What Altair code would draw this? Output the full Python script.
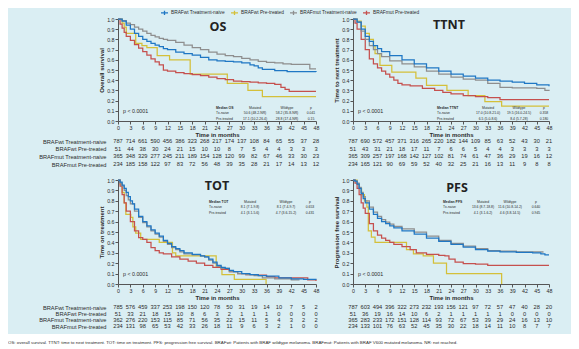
import altair as alt
import pandas as pd

BG = "#DAEEF3"
FONT = "Liberation Sans"
TFONT = "Open Sans"
INK = "#2b2b2b"

SERIES = ["BRAFwt Treatment-naive", "BRAFwt Pre-treated",
          "BRAFmut Treatment-naive", "BRAFmut Pre-treated"]
COLORS = ["#1f77c4", "#d4c03a", "#8e8e8e", "#c5504e"]
DRAW_ORDER = [1, 3, 2, 0]
MONTHS = list(range(0, 49, 3))
Y_TICKS = [0.0, 0.1, 0.2, 0.3, 0.4, 0.5, 0.6, 0.7, 0.8, 0.9, 1.0]

# ---------------- OS ----------------
os_wt_naive_t = [0, 1, 2, 3, 4, 5, 6, 7, 8, 9, 10, 11, 12, 14, 16, 18, 20, 22, 24, 26, 28, 30, 32, 33, 34, 35, 38, 41, 48]
os_wt_naive_s = [1, 0.98, 0.94, 0.90, 0.86, 0.83, 0.80, 0.78, 0.76, 0.745, 0.73, 0.71, 0.70, 0.675, 0.66, 0.645, 0.625, 0.60, 0.59, 0.585, 0.58, 0.57, 0.55, 0.54, 0.52, 0.505, 0.495, 0.485, 0.48]
os_wt_pre_t = [0, 1, 1.5, 2, 4.3, 5.8, 7, 9.5, 12.5, 17.5, 26.5, 31.5, 35, 48]
os_wt_pre_s = [1, 0.96, 0.92, 0.86, 0.76, 0.74, 0.72, 0.64, 0.60, 0.46, 0.37, 0.30, 0.24, 0.24]
os_mut_naive_t = [0, 1, 2, 3, 4, 5, 6, 7, 8, 9, 10, 11, 12, 14, 16, 18, 20, 22, 24, 26, 28, 30, 32, 34, 36, 38, 40, 42, 46.5, 48]
os_mut_naive_s = [1, 0.985, 0.96, 0.945, 0.92, 0.90, 0.88, 0.86, 0.84, 0.825, 0.81, 0.80, 0.79, 0.77, 0.745, 0.72, 0.70, 0.675, 0.655, 0.64, 0.63, 0.615, 0.60, 0.585, 0.575, 0.57, 0.56, 0.555, 0.51, 0.51]
os_mut_pre_t = [0, 0.5, 1, 1.5, 2, 3, 4, 5, 6, 7, 8, 9, 10, 11, 12, 14, 16, 18, 20, 22, 24, 26, 28, 30, 32, 34, 36, 38, 39.5, 40.5, 41.5, 48]
os_mut_pre_s = [1, 0.95, 0.91, 0.87, 0.83, 0.79, 0.75, 0.715, 0.68, 0.645, 0.61, 0.58, 0.55, 0.50, 0.49, 0.475, 0.465, 0.455, 0.445, 0.43, 0.415, 0.405, 0.39, 0.385, 0.38, 0.375, 0.37, 0.36, 0.33, 0.31, 0.29, 0.29]

# ---------------- TTNT ----------------
ttnt_wt_naive_t = [0, 1, 2, 3, 4, 5, 6, 7, 9, 12, 15, 18, 21, 24, 27, 30, 33, 36, 39, 42, 45, 48]
ttnt_wt_naive_s = [1, 0.97, 0.90, 0.83, 0.78, 0.74, 0.71, 0.68, 0.64, 0.60, 0.56, 0.52, 0.49, 0.46, 0.44, 0.42, 0.40, 0.39, 0.38, 0.37, 0.355, 0.34]
ttnt_wt_pre_t = [0, 1, 2, 3, 4, 5, 5.4, 6.6, 9.5, 15.4, 18, 23, 28.2, 32.3, 36.4, 48]
ttnt_wt_pre_s = [1, 0.98, 0.93, 0.86, 0.80, 0.74, 0.66, 0.545, 0.48, 0.42, 0.35, 0.30, 0.25, 0.19, 0.145, 0.145]
ttnt_mut_naive_t = [0, 1, 2, 3, 4, 5, 6, 7, 9, 12, 15, 18, 21, 24, 27, 30, 33, 36, 39, 45, 47, 48]
ttnt_mut_naive_s = [1, 0.97, 0.88, 0.80, 0.74, 0.70, 0.66, 0.63, 0.59, 0.56, 0.53, 0.49, 0.46, 0.43, 0.41, 0.40, 0.37, 0.33, 0.325, 0.32, 0.30, 0.295]
ttnt_mut_pre_t = [0, 0.5, 1, 2, 3, 4, 5, 6, 7, 8, 9, 10, 11, 12, 14, 17, 20, 22, 24, 27, 30, 33, 36, 48]
ttnt_mut_pre_s = [1, 0.96, 0.90, 0.80, 0.70, 0.61, 0.56, 0.52, 0.49, 0.46, 0.43, 0.40, 0.37, 0.355, 0.345, 0.32, 0.30, 0.28, 0.265, 0.25, 0.24, 0.23, 0.21, 0.21]

# ---------------- TOT ----------------
tot_wt_naive_t = [0, 0.5, 1, 1.5, 2, 2.5, 3, 3.5, 4, 5, 6, 7, 8, 9, 10, 11, 12, 13, 14, 15, 16, 18, 20, 21, 22, 23, 24, 25, 26, 27, 28, 30, 32, 34, 36, 39, 42, 45, 48]
tot_wt_naive_s = [1, 0.98, 0.95, 0.92, 0.88, 0.84, 0.80, 0.77, 0.72, 0.65, 0.60, 0.56, 0.52, 0.49, 0.46, 0.42, 0.39, 0.36, 0.34, 0.32, 0.30, 0.285, 0.27, 0.26, 0.24, 0.21, 0.18, 0.16, 0.15, 0.13, 0.12, 0.10, 0.09, 0.08, 0.075, 0.06, 0.05, 0.045, 0.04]
tot_wt_pre_t = [0, 0.5, 1, 1.5, 1.9, 3.1, 3.6, 4.3, 5.5, 10, 13.2, 14, 23.8, 25.2, 28.2, 35.9]
tot_wt_pre_s = [1, 0.96, 0.88, 0.78, 0.67, 0.64, 0.55, 0.49, 0.43, 0.40, 0.30, 0.27, 0.16, 0.09, 0.045, 0.0]
tot_mut_naive_t = [0, 0.5, 1, 1.5, 2, 2.5, 3, 4, 5, 6, 7, 8, 9, 10, 11, 12, 13, 14, 15, 16, 18, 20, 21, 22, 23, 24, 25, 27, 29, 31, 33, 35, 38, 42, 44]
tot_mut_naive_s = [1, 0.97, 0.94, 0.90, 0.85, 0.81, 0.77, 0.70, 0.64, 0.59, 0.55, 0.51, 0.48, 0.45, 0.41, 0.38, 0.35, 0.33, 0.31, 0.29, 0.28, 0.27, 0.26, 0.23, 0.20, 0.17, 0.15, 0.12, 0.10, 0.09, 0.08, 0.06, 0.05, 0.04, 0.04]
tot_mut_pre_t = [0, 0.5, 1, 1.5, 2, 3, 4, 5, 6, 7, 8, 9, 10, 11, 13, 15, 17, 19, 21, 23, 25, 27, 29, 31, 34, 36, 38, 42, 46, 48]
tot_mut_pre_s = [1, 0.94, 0.86, 0.78, 0.70, 0.60, 0.51, 0.445, 0.43, 0.40, 0.35, 0.32, 0.30, 0.29, 0.26, 0.24, 0.22, 0.20, 0.18, 0.16, 0.14, 0.12, 0.10, 0.09, 0.085, 0.07, 0.06, 0.06, 0.04, 0.03]

# ---------------- PFS ----------------
pfs_wt_naive_t = [0, 0.5, 1, 1.5, 2, 2.5, 3, 4, 5, 6, 7, 8, 9, 10, 12, 15, 18, 21, 24, 27, 30, 33, 36, 40, 44, 46, 47, 48]
pfs_wt_naive_s = [1, 0.99, 0.96, 0.92, 0.87, 0.82, 0.78, 0.72, 0.67, 0.63, 0.60, 0.58, 0.56, 0.54, 0.51, 0.48, 0.44, 0.41, 0.38, 0.355, 0.33, 0.315, 0.31, 0.305, 0.30, 0.29, 0.28, 0.28]
pfs_wt_pre_t = [0, 1, 1.5, 2.1, 2.8, 3.4, 3.75, 4.5, 5.4, 13.1, 14.8, 17.2, 19.7, 22.9, 36.4]
pfs_wt_pre_s = [1, 0.96, 0.92, 0.86, 0.80, 0.74, 0.51, 0.45, 0.40, 0.33, 0.29, 0.27, 0.20, 0.10, 0.0]
pfs_mut_naive_t = [0, 0.5, 1, 1.5, 2, 2.5, 3, 4, 5, 6, 7, 8, 9, 10, 12, 15, 18, 21, 24, 27, 30, 33, 36, 40, 44, 46.5]
pfs_mut_naive_s = [1, 0.99, 0.97, 0.93, 0.88, 0.84, 0.80, 0.74, 0.69, 0.65, 0.62, 0.595, 0.575, 0.555, 0.53, 0.50, 0.46, 0.42, 0.39, 0.365, 0.34, 0.32, 0.315, 0.31, 0.31, 0.30]
pfs_mut_pre_t = [0, 0.5, 1, 1.5, 2, 2.5, 3, 4, 5, 6, 7, 8, 9, 10, 12, 14, 15.5, 18, 21, 22.5, 23.5, 25, 27, 30, 33, 48]
pfs_mut_pre_s = [1, 0.97, 0.92, 0.86, 0.78, 0.73, 0.68, 0.58, 0.51, 0.47, 0.44, 0.42, 0.40, 0.38, 0.36, 0.33, 0.30, 0.285, 0.275, 0.27, 0.24, 0.21, 0.195, 0.19, 0.18, 0.18]

# ---------------- numbers at risk ----------------
os_risk_wt_naive = [787, 714, 661, 590, 456, 386, 323, 268, 217, 174, 137, 108, 84, 65, 55, 37, 28]
os_risk_wt_pre = [51, 44, 38, 30, 24, 21, 15, 10, 10, 8, 7, 5, 4, 4, 3, 3, 3]
os_risk_mut_naive = [365, 348, 329, 277, 245, 211, 189, 154, 128, 120, 99, 82, 67, 46, 33, 30, 23]
os_risk_mut_pre = [234, 185, 158, 122, 97, 83, 72, 56, 48, 39, 35, 28, 21, 17, 14, 13, 12]

ttnt_risk_wt_naive = [787, 690, 572, 457, 371, 316, 265, 220, 182, 144, 109, 85, 63, 52, 43, 30, 21]
ttnt_risk_wt_pre = [51, 43, 31, 21, 18, 17, 11, 7, 6, 6, 5, 4, 4, 3, 3, 3, 3]
ttnt_risk_mut_naive = [365, 309, 257, 197, 168, 142, 127, 102, 81, 74, 61, 47, 36, 29, 19, 16, 12]
ttnt_risk_mut_pre = [234, 165, 121, 90, 69, 59, 52, 40, 32, 25, 21, 16, 13, 11, 9, 8, 8]

tot_risk_wt_naive = [785, 576, 459, 337, 253, 198, 150, 120, 78, 50, 31, 19, 14, 10, 7, 5, 2]
tot_risk_wt_pre = [51, 33, 21, 18, 15, 10, 8, 6, 3, 2, 1, 1, 1, 0, 0, 0, 0]
tot_risk_mut_naive = [362, 276, 220, 153, 115, 85, 71, 56, 35, 22, 15, 11, 5, 4, 3, 2, 2]
tot_risk_mut_pre = [234, 131, 98, 65, 53, 42, 33, 26, 18, 11, 9, 6, 3, 2, 1, 0, 0]

pfs_risk_wt_naive = [787, 603, 494, 396, 322, 273, 232, 193, 156, 121, 97, 72, 57, 47, 40, 28, 20]
pfs_risk_wt_pre = [51, 36, 19, 16, 14, 10, 6, 2, 1, 1, 1, 1, 1, 0, 0, 0, 0]
pfs_risk_mut_naive = [365, 283, 233, 172, 151, 128, 114, 93, 72, 67, 53, 39, 29, 24, 16, 13, 10]
pfs_risk_mut_pre = [234, 133, 101, 76, 63, 52, 45, 35, 30, 22, 18, 14, 11, 10, 8, 7, 7]

# ---------------- texts ----------------
PANEL_TITLES = ["OS", "TTNT", "TOT", "PFS"]
Y_TITLES = ["Overall survival", "Time to next treatment", "Time on treatment", "Progression free survival"]
X_TITLE = "Time in months"
P_TEXT = "p < 0.0001"
os_inset = [["Median OS", "Mutated", "Wildtype", "p"],
            ["Tx-naive", "50.6 (48.2-NR)", "58.2 (35.8-NR)", "0.041"],
            ["Pre-treated", "17.1 (10.2-26.4)", "28.8 (17.4-NR)", "0.15"]]
ttnt_inset = [["Median TTNT", "Mutated", "Wildtype", "p"],
              ["Tx-naive", "17.0 (10.8-21.0)", "19.5 (16.0-24.5)", "0.358"],
              ["Pre-treated", "6.5 (5.0-8.6)", "8.4 (5.7-28)", "0.180"]]
tot_inset = [["Median TOT", "Mutated", "Wildtype", "p"],
             ["Tx-naive", "8.1 (7.1-9.8)", "8.1 (7.4-9.7)", "0.653"],
             ["Pre-treated", "4.1 (3.1-5.6)", "4.7 (3.6-15.2)", "0.431"]]
pfs_inset = [["Median PFS", "Mutated", "Wildtype", "p"],
             ["Tx-naive", "13.6 (8.7-18.8)", "11.6 (10.8-14.2)", "0.640"],
             ["Pre-treated", "4.1 (3.1-6.2)", "4.6 (3.8-14.5)", "0.945"]]
FOOTNOTE = ("OS: overall survival. TTNT: time to next treatment. TOT: time on treatment. "
            "PFS: progression free survival. BRAFwt: Patients with BRAF wildtype melanoma. "
            "BRAFmut: Patients with BRAF V600 mutated melanoma. NR: not reached.")

# ---------------- layout (pixels) ----------------
W_L, W_R = 198, 196
H_T, H_B = 102, 104

COLOR = alt.Color(
    "series:N",
    scale=alt.Scale(domain=SERIES, range=COLORS),
    legend=alt.Legend(title=None, orient="none", legendX=42, legendY=-11, direction="horizontal",
                      labelFont=FONT, labelFontSize=4.8, labelColor=INK,
                      symbolType="M-1,0L1,0M0,-0.6L0,0.6", symbolSize=49, symbolStrokeWidth=1.3,
                      columnPadding=3, labelOffset=2, padding=0, labelLimit=200),
)


def axes(ytitle):
    x = alt.X("t:Q", scale=alt.Scale(domain=[0, 48], nice=False, zero=False),
              axis=alt.Axis(values=MONTHS, title=X_TITLE, grid=False, tickSize=3, labelPadding=1,
                            titlePadding=1, labelFont=FONT, labelFontSize=5.3, labelColor=INK,
                            titleFont=FONT, titleFontSize=6, titleFontWeight="bold", titleColor=INK,
                            domainColor="#555", tickColor="#555", labelFlush=False,
                            labelOverlap=False))
    y = alt.Y("s:Q", scale=alt.Scale(domain=[0, 1], nice=False),
              axis=alt.Axis(values=Y_TICKS, format=".1f", title=ytitle, grid=False, tickSize=3,
                            labelPadding=1, titlePadding=2, labelFont=FONT, labelFontSize=5.3,
                            labelColor=INK, titleFont=FONT, titleFontSize=6,
                            titleFontWeight="bold", titleColor=INK, domainColor="#555",
                            tickColor="#555", labelFlush=False, labelOverlap=False))
    return x, y


def km_panel(curves, W, H, ytitle, title, title_xy, inset, cols, rows):
    X, Y = axes(ytitle)
    layers = []
    for i in DRAW_ORDER:
        t, s = curves[i]
        df = pd.DataFrame({"t": t, "s": s, "series": SERIES[i]})
        layers.append(alt.Chart(df).mark_line(interpolate="step-after", strokeWidth=1.25)
                      .encode(x=X, y=Y, color=COLOR))
    tdf = pd.DataFrame({"t": [title_xy[0] / W * 48], "s": [1 - title_xy[1] / H], "label": [title]})
    layers.append(alt.Chart(tdf).mark_text(font=TFONT, fontSize=12.5, fontWeight="bold",
                                           color="#222", baseline="middle")
                  .encode(x=X, y=Y, text="label:N"))
    pdf = pd.DataFrame({"t": [5 / W * 48], "s": [10 / H], "label": [P_TEXT]})
    layers.append(alt.Chart(pdf).mark_text(font=FONT, fontSize=5.3, color=INK, align="left",
                                           baseline="middle")
                  .encode(x=X, y=Y, text="label:N"))
    recs = []
    for r, (row, py) in enumerate(zip(inset, rows)):
        for c, (cell, px) in enumerate(zip(row, cols)):
            recs.append({"t": px / W * 48, "s": 1 - py / H, "label": cell,
                         "is_first": c == 0, "bold": (r == 0 and c == 0)})
    idf = pd.DataFrame(recs)
    for first, align in [(True, "left"), (False, "center")]:
        for bold in [True, False]:
            sub = idf[(idf["is_first"] == first) & (idf["bold"] == bold)]
            if len(sub) == 0:
                continue
            layers.append(alt.Chart(sub).mark_text(font=FONT, fontSize=3.4, color=INK, align=align,
                                                   baseline="middle",
                                                   fontWeight="bold" if bold else "normal")
                          .encode(x=X, y=Y, text="label:N"))
    return alt.layer(*layers).properties(width=W, height=H)


def risk_panel(counts, W, H, r0, step, show_labels):
    recs = []
    for i in range(4):
        for m, n in zip(MONTHS, counts[i]):
            recs.append({"series": SERIES[i], "t": m, "n": str(n)})
    df = pd.DataFrame(recs)
    if show_labels:
        yax = alt.Axis(title=None, domain=False, ticks=False, labelFont=FONT, labelFontSize=5.7,
                       labelColor=INK, labelPadding=12, labelLimit=200)
    else:
        yax = None
    return (alt.Chart(df).mark_text(font=FONT, fontSize=5.7, color=INK, baseline="middle")
            .encode(x=alt.X("t:Q", scale=alt.Scale(domain=[0, 48], nice=False, zero=False), axis=None),
                    y=alt.Y("series:N", sort=SERIES,
                            scale=alt.Scale(type="point", domain=SERIES,
                                            range=[r0, r0 + 3 * step], padding=0),
                            axis=yax),
                    text="n:N")
            .properties(width=W, height=H))


km_os = km_panel([(os_wt_naive_t, os_wt_naive_s), (os_wt_pre_t, os_wt_pre_s),
                  (os_mut_naive_t, os_mut_naive_s), (os_mut_pre_t, os_mut_pre_s)],
                 W_L, H_T, Y_TITLES[0], PANEL_TITLES[0], (100, 7.5), os_inset,
                 [98, 137, 169, 193], [H_T - 13, H_T - 8, H_T - 2.5])
km_ttnt = km_panel([(ttnt_wt_naive_t, ttnt_wt_naive_s), (ttnt_wt_pre_t, ttnt_wt_pre_s),
                    (ttnt_mut_naive_t, ttnt_mut_naive_s), (ttnt_mut_pre_t, ttnt_mut_pre_s)],
                   W_R, H_T, Y_TITLES[1], PANEL_TITLES[1], (96, 6), ttnt_inset,
                   [84, 135, 166, 191], [H_T - 13, H_T - 8, H_T - 2.5])
km_tot = km_panel([(tot_wt_naive_t, tot_wt_naive_s), (tot_wt_pre_t, tot_wt_pre_s),
                   (tot_mut_naive_t, tot_mut_naive_s), (tot_mut_pre_t, tot_mut_pre_s)],
                  W_L, H_B, Y_TITLES[2], PANEL_TITLES[2], (99, 6), tot_inset,
                  [91, 132, 168, 192], [21.5, 27, 32.5])
km_pfs = km_panel([(pfs_wt_naive_t, pfs_wt_naive_s), (pfs_wt_pre_t, pfs_wt_pre_s),
                   (pfs_mut_naive_t, pfs_mut_naive_s), (pfs_mut_pre_t, pfs_mut_pre_s)],
                  W_R, H_B, Y_TITLES[3], PANEL_TITLES[3], (104, 8), pfs_inset,
                  [90, 130, 157, 183], [21.7, 27, 32.7])

risk_os = risk_panel([os_risk_wt_naive, os_risk_wt_pre, os_risk_mut_naive, os_risk_mut_pre],
                     W_L, 59, 20, 7.7, True)
risk_ttnt = risk_panel([ttnt_risk_wt_naive, ttnt_risk_wt_pre, ttnt_risk_mut_naive, ttnt_risk_mut_pre],
                       W_R, 59, 20, 7.7, False)
risk_tot = risk_panel([tot_risk_wt_naive, tot_risk_wt_pre, tot_risk_mut_naive, tot_risk_mut_pre],
                      W_L, 50, 23.3, 6.25, True)
risk_pfs = risk_panel([pfs_risk_wt_naive, pfs_risk_wt_pre, pfs_risk_mut_naive, pfs_risk_mut_pre],
                      W_R, 50, 23.3, 6.25, False)

foot_df = pd.DataFrame({"label": [FOOTNOTE]})
foot_bg = alt.Chart(foot_df).mark_rect(color="white").encode(
    x=alt.value(-110), x2=alt.value(453), y=alt.value(0), y2=alt.value(16))
foot_txt = alt.Chart(foot_df).mark_text(align="left", baseline="middle", font=FONT, fontSize=4.4,
                                        color=INK).encode(
    x=alt.value(-110), y=alt.value(9), text="label:N")
foot = alt.layer(foot_bg, foot_txt).properties(width=W_L, height=16)

chart = (alt.concat(km_os, km_ttnt, risk_os, risk_ttnt, km_tot, km_pfs, risk_tot, risk_pfs, foot,
                    columns=2, spacing={"row": 0, "column": 37}, bounds="flush", align="each")
         .resolve_scale(x="independent", y="independent")
         .properties(background=BG, padding={"left": 0, "top": 0, "right": 0, "bottom": 0})
         .configure_view(stroke=None))

chart.save("out.html", embed_options={"renderer": "svg", "actions": False})
